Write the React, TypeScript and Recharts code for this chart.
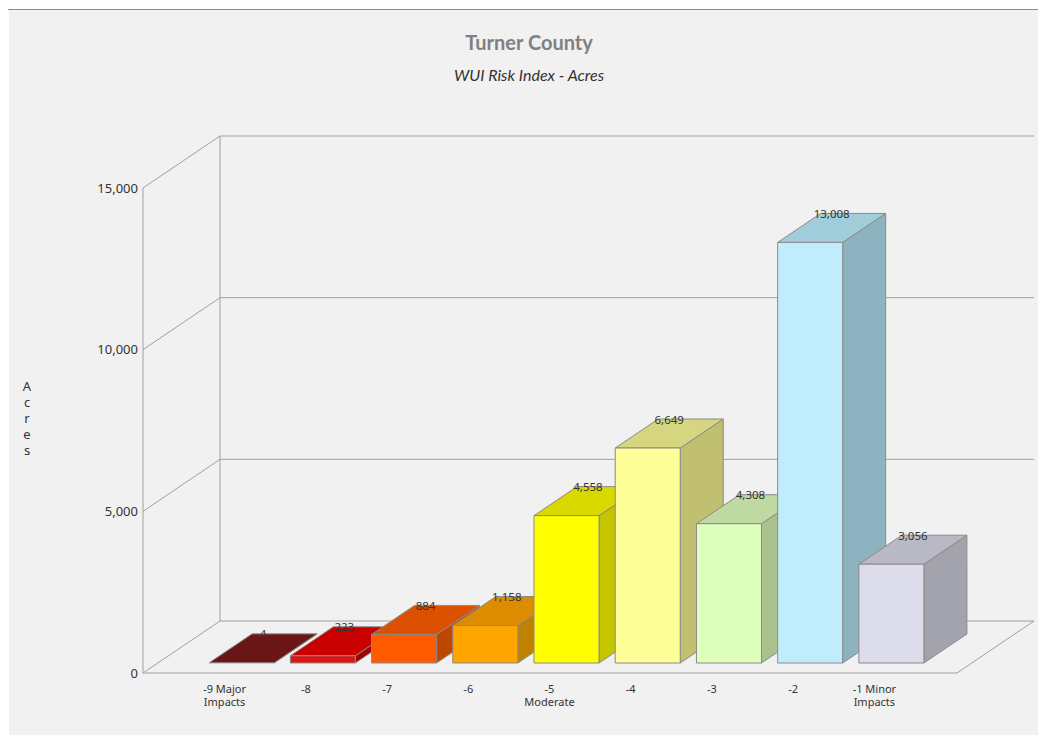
import { BarChart, Bar, XAxis, YAxis, CartesianGrid, LabelList } from 'recharts';

// WUI risk classes and acres per class
const CATEGORIES = [
  '-9 Major\nImpacts',
  '-8',
  '-7',
  '-6',
  '-5\nModerate',
  '-4',
  '-3',
  '-2',
  '-1 Minor\nImpacts',
];
const ACRES = [4, 223, 884, 1158, 4558, 6649, 4308, 13008, 3056];
const Y_TICKS = [0, 5000, 10000, 15000];

// face colours per bar: front, top, side
const FRONT = ['#6e1818', '#dc1414', '#ff5a00', '#ffa500', '#ffff00', '#ffff99', '#ddffbb', '#c0ecfb', '#dcdcea'];
const TOP = ['#6b1616', '#c80000', '#dd5000', '#dc8c00', '#d9d900', '#d6d680', '#bfd9a3', '#a0cdd9', '#b9b9c6'];
const SIDE = ['#561010', '#a00000', '#c04600', '#c08000', '#c4c400', '#c0c070', '#a9c08f', '#8eb3c0', '#a3a3ae'];

const W = 1031;
const H = 733;
const GRID = '#a0a0a0';
const EDGE = '#8a8a8a';

// depth of the back wall and of each box
const DX = 77;
const DY = -52;
const OX = 15;
const OY = -10;
const BX = 43;
const BY = -29;

const data = CATEGORIES.map((name, i) => ({ name, acres: ACRES[i] }));

const fmt = (v: number) => Number(v).toLocaleString('en-US');

const BackGridLine = (p: any) => {
  const { x1, x2, y1, index } = p;
  const top = p.y;
  const bottom = p.y + p.height;
  const isFloor = p.height != null ? Math.abs(y1 - bottom) < 0.5 : index === 0;
  return (
    <g key={p.key} stroke={GRID} strokeWidth={1} fill="none">
      <line x1={x1} y1={y1} x2={x1 + DX} y2={y1 + DY} />
      <line x1={x1 + DX} y1={y1 + DY} x2={x2 + DX} y2={y1 + DY} />
      {isFloor && (
        <>
          <line x1={x1 + DX} y1={top + DY} x2={x1 + DX} y2={bottom + DY} />
          <line x1={x2} y1={bottom} x2={x2 + DX} y2={bottom + DY} />
        </>
      )}
    </g>
  );
};

const Box3D = (props: any) => {
  const { x, y, width, height, index } = props;
  const h = Math.max(height || 0, 0);
  const fx = x + OX;
  const fy = y + OY;
  const right = fx + width;
  const bottom = fy + h;
  const top = `M${fx},${fy} L${fx + BX},${fy + BY} L${right + BX},${fy + BY} L${right},${fy} Z`;
  const side = `M${right},${fy} L${right + BX},${fy + BY} L${right + BX},${bottom + BY} L${right},${bottom} Z`;
  return (
    <g stroke={EDGE} strokeWidth={1} strokeLinejoin="round">
      <path d={side} fill={SIDE[index]} />
      <path d={top} fill={TOP[index]} />
      {h > 0.5 && <rect x={fx} y={fy} width={width} height={h} fill={FRONT[index]} />}
    </g>
  );
};

const ValueLabel = (p: any) => {
  const { x, y, width, value } = p;
  return (
    <text
      x={x + width / 2 + OX + BX / 2}
      y={y + OY + BY}
      textAnchor="middle"
      dominantBaseline="central"
      fontSize={11.5}
      fill="#333"
    >
      {fmt(value)}
    </text>
  );
};

const XTick = (p: any) => {
  const { x, y, payload } = p;
  const lines = String(payload.value).split('\n');
  return (
    <g>
      {lines.map((ln, i) => (
        <text
          key={i}
          x={x - 2}
          y={y + 15 + i * 13}
          textAnchor="middle"
          dominantBaseline="central"
          fontSize={11}
          fill="#333"
        >
          {ln}
        </text>
      ))}
    </g>
  );
};

export default function App() {
  return (
    <div style={{ margin: -8, width: 1046, height: 743, position: 'relative', background: '#fff', fontFamily: '"Noto Sans", sans-serif' }}>
      <div style={{ position: 'absolute', left: 4, top: 9, width: 1042, height: 1, background: '#8c8c8c' }} />
      <div style={{ position: 'absolute', left: 9, top: 10, width: W, height: H, background: '#f1f1f1' }} />
      <div
        style={{
          position: 'absolute', left: 0, width: 1058, top: 30, textAlign: 'center',
          fontFamily: 'Lato, sans-serif', fontWeight: 700, fontSize: 20, color: '#808080',
        }}
      >
        Turner County
      </div>
      <div
        style={{
          position: 'absolute', left: 0, width: 1058, top: 65, textAlign: 'center',
          fontFamily: 'Lato, sans-serif', fontStyle: 'italic', fontSize: 16, color: '#333',
        }}
      >
        WUI Risk Index - Acres
      </div>
      <div
        style={{
          position: 'absolute', left: 17, width: 20, top: 378, textAlign: 'center',
          fontSize: 13, lineHeight: '16px', color: '#333',
        }}
      >
        {'Acres'.split('').map((c, i) => (
          <div key={i}>{c}</div>
        ))}
      </div>
      <div style={{ position: 'absolute', left: 9, top: 9 }}>
        <BarChart
          width={W}
          height={H}
          data={data}
          margin={{ top: 179, right: 83, bottom: 29, left: 74 }}
          barCategoryGap="10%"
        >
          <CartesianGrid vertical={false} horizontal={BackGridLine} />
          <XAxis
            dataKey="name"
            padding={{ left: 43, right: 40 }}
            axisLine={{ stroke: GRID }}
            tickLine={false}
            tickSize={0}
            tickMargin={0}
            height={40}
            interval={0}
            tick={<XTick />}
          />
          <YAxis
            domain={[0, 15000]}
            ticks={Y_TICKS}
            width={60}
            axisLine={{ stroke: GRID }}
            tickLine={false}
            tickSize={3}
            tickMargin={2}
            tickFormatter={fmt}
            tick={{ fill: '#333', fontSize: 13 }}
          />
          <Bar dataKey="acres" isAnimationActive={false} shape={<Box3D />}>
            <LabelList dataKey="acres" content={<ValueLabel />} />
          </Bar>
        </BarChart>
      </div>
    </div>
  );
}
